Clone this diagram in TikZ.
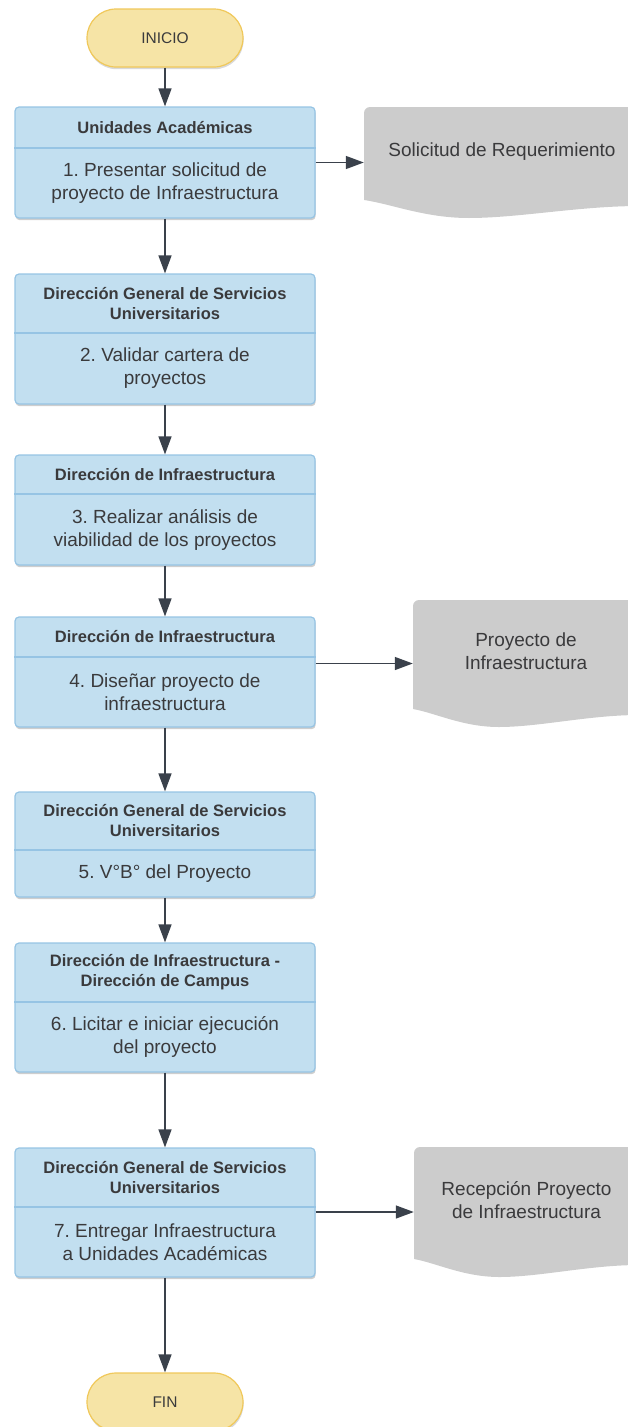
\documentclass[tikz,border=0pt]{standalone}
\usepackage{fontspec}
\setmainfont{Liberation Sans}
\frenchspacing
\usetikzlibrary{arrows.meta,shapes.misc,shadows,calc}
\definecolor{boxfill}{RGB}{194,223,240}
\definecolor{boxline}{RGB}{150,196,228}
\definecolor{termfill}{RGB}{246,228,166}
\definecolor{termline}{RGB}{240,200,90}
\definecolor{docgray}{RGB}{204,204,204}
\definecolor{txtcol}{RGB}{58,58,60}
\definecolor{arrowcol}{RGB}{58,65,75}
\tikzset{
  procbox/.style={rectangle, rounded corners=4pt, draw=boxline, line width=1.2pt, fill=boxfill,
    minimum width=300pt, inner sep=0pt,
    drop shadow={shadow xshift=0.6pt, shadow yshift=-2.2pt, opacity=0.35, fill=black!55}},
  divline/.style={draw=boxline, line width=1.2pt},
  hdr/.style={font=\bfseries\fontsize{16.5}{20}\selectfont, text=txtcol, align=center, inner sep=0pt},
  bodytxt/.style={font=\fontsize{19}{23}\selectfont, text=txtcol, align=center, inner sep=0pt},
  term/.style={rounded rectangle, draw=termline, line width=1.2pt, fill=termfill,
    minimum width=156pt, minimum height=58pt, inner sep=0pt,
    font=\fontsize{15.5}{18}\selectfont, text=txtcol,
    drop shadow={shadow xshift=0.6pt, shadow yshift=-2.2pt, opacity=0.3, fill=black!50}},
  docnode/.style={rectangle, inner sep=0pt,
    path picture={\fill[docgray] let \p1=(path picture bounding box.south west),
       \p2=(path picture bounding box.north east) in
       (\x1,\y1+18pt) [rounded corners=6pt] -- (\x1,\y2) -- (\x2+6pt,\y2) [sharp corners]
       -- (\x2,\y1+12pt)
       .. controls (\x1+0.78*\x2-0.78*\x1,\y1+12pt) and (\x1+0.56*\x2-0.56*\x1,\y1) .. (\x1+0.38*\x2-0.38*\x1,\y1)
       .. controls (\x1+0.22*\x2-0.22*\x1,\y1) and (\x1+0.1*\x2-0.1*\x1,\y1+14pt) .. (\x1,\y1+18pt) -- cycle;}},
  doctxt/.style={font=\fontsize{19}{23}\selectfont, text=txtcol, align=center, inner sep=0pt},
  arr/.style={draw=arrowcol, line width=1.4pt, -{Triangle[length=18pt,width=13pt]}}
}
% #1 name, #2 top, #3 divider, #4 bottom, #5 header, #6 body
\newcommand\flowbox[6]{%
  \node[procbox, minimum height={(#4-#2)*1pt}] (#1) at (165,{-(#2+#4)/2}) {};
  \coordinate (#1d) at (165,-#3);
  \draw[divline] (#1.west |- #1d) -- (#1.east |- #1d);
  \node[hdr] (#1h) at (165,{-(#2+#3)/2}) {#5};
  \node[bodytxt] (#1t) at (165,{-(#3+#4)/2}) {#6};
}
\begin{document}
\begin{tikzpicture}[x=1pt,y=1pt]
\useasboundingbox (0,0) rectangle (628,-1427);
\clip (0,0) rectangle (628,-1427);

\node[term] (ini) at (165,-38) {INICIO};

\flowbox{b1}{107}{148}{218}{Unidades Académicas}{1. Presentar solicitud de\\proyecto de Infraestructura}
\flowbox{b2}{274}{333}{404}{Dirección General de Servicios\\Universitarios}{2. Validar cartera de\\proyectos}
\flowbox{b3}{455}{494}{565}{Dirección de Infraestructura}{3. Realizar análisis de\\viabilidad de los proyectos}
\flowbox{b4}{617}{657}{727}{Dirección de Infraestructura}{4. Diseñar proyecto de\\infraestructura}
\flowbox{b5}{792}{850}{897}{Dirección General de Servicios\\Universitarios}{5. V°B° del Proyecto}
\flowbox{b6}{943}{1002}{1072}{Dirección de Infraestructura -\\Dirección de Campus}{6. Licitar e iniciar ejecución\\del proyecto}
\flowbox{b7}{1148}{1207}{1277}{Dirección General de Servicios\\Universitarios}{7. Entregar Infraestructura\\a Unidades Académicas}

\node[term] (fin) at (165,-1402) {FIN};

\node[docnode, minimum width=276pt, minimum height=111pt] (d1) at (502,-162.5) {};
\node[doctxt] (d1t) at ([yshift=10.5pt]d1.center) {Solicitud de Requerimiento};
\node[docnode, minimum width=226pt, minimum height=127pt] (d2) at (526,-663.5) {};
\node[doctxt] (d2t) at ([yshift=12pt]d2.center) {Proyecto de\\Infraestructura};
\node[docnode, minimum width=225pt, minimum height=130pt] (d3) at (526.5,-1212) {};
\node[doctxt] (d3t) at ([yshift=12pt]d3.center) {Recepción Proyecto\\de Infraestructura};

\draw[arr] (ini.south) -- (b1.north);
\draw[arr] (b1.south) -- (b2.north);
\draw[arr] (b2.south) -- (b3.north);
\draw[arr] (b3.south) -- (b4.north);
\draw[arr] (b4.south) -- (b5.north);
\draw[arr] (b5.south) -- (b6.north);
\draw[arr] (b6.south) -- (b7.north);
\draw[arr] (b7.south) -- (fin.north);

\draw[arr] (d1.west -| b1.east) -- (d1.west);
\draw[arr] (d2.west -| b4.east) -- (d2.west);
\draw[arr] (d3.west -| b7.east) -- (d3.west);
\end{tikzpicture}
\end{document}
